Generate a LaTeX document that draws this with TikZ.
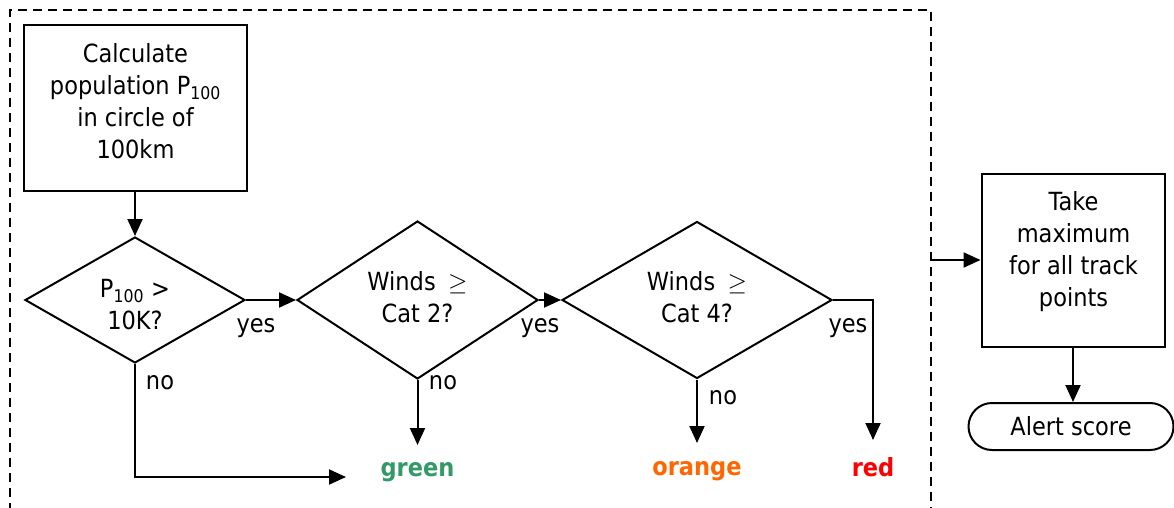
\documentclass[tikz,border=0pt]{standalone}
\usepackage{fontspec}
\setmainfont{DejaVu Sans}[FakeStretch=0.9]
\usetikzlibrary{shapes.geometric,shapes.misc,arrows.meta}
\definecolor{resgreen}{HTML}{339966}
\definecolor{resorange}{HTML}{FF6600}
\definecolor{resred}{HTML}{FF0000}
\begin{document}
\begin{tikzpicture}[x=1pt,y=-1pt,
  font=\fontsize{25}{32}\selectfont,
  line width=2pt,
  arr/.style={-{Triangle[length=17pt,width=15pt]}},
  procbox/.style={draw,rectangle,inner sep=0pt},
  decision/.style={draw,diamond,inner sep=0pt,align=center},
  txt/.style={inner sep=0pt,align=center},
  res/.style={inner sep=0pt,font=\fontsize{25}{30}\selectfont\bfseries},
  frame/.style={line width=1.6pt,dash pattern=on 9pt off 6pt},
]
\useasboundingbox (0,0) rectangle (1174,508);
% dashed frame
\draw[frame] (10,512) -- (10,10) -- (931,10) -- (931,512);

% boxes
\node[procbox,minimum width=223pt,minimum height=166pt] (box1) at (135,108) {};
\node[txt] (box1t) at (135.5,101.5) {Calculate\\population P\textsubscript{100}\\in circle of\\100km};

\node[decision,minimum width=220pt,minimum height=126pt] (d1) at (135,300) {};
\node[txt] (d1t) at (135,305) {P\textsubscript{100} >\\10K?};
\node[decision,minimum width=241pt,minimum height=158pt] (d2) at (417.5,300) {};
\node[txt] (d2t) at (417.5,297) {Winds\enspace$\geq$\\Cat 2?};
\node[decision,minimum width=270pt,minimum height=157pt] (d3) at (697,300) {};
\node[txt] (d3t) at (697,297) {Winds\enspace$\geq$\\Cat 4?};

\node[procbox,minimum width=183pt,minimum height=173pt] (box2) at (1073,260) {};
\node[txt] (box2t) at (1073.5,252) {Take\\maximum\\for all track\\points};
\node[draw,rounded rectangle,minimum width=205pt,minimum height=47pt,inner sep=0pt] (term) at (1071,426.5) {Alert score};

% results
\node[res,text=resgreen] (green) at (417.5,472) {green};
\node[res,text=resorange] (orange) at (697,471) {orange};
\node[res,text=resred] (red) at (873,467) {red};

% labels
\node[txt] (y1) at (256,328) {yes};
\node[txt] (y2) at (540,328) {yes};
\node[txt] (y3) at (848,328) {yes};
\node[txt] (n1) at (160,383) {no};
\node[txt] (n2) at (443,383) {no};
\node[txt] (n3) at (723,398) {no};

% connector ends
\coordinate (gtip) at (346,477);
\coordinate (greentip) at (417.5,445);
\coordinate (orangetip) at (697,443);
\coordinate (redtip) at (873,440);
\coordinate (frameout) at (931,260);

% connectors
\draw[arr] (box1.south) -- (d1.north);
\draw[arr] (d1.east) -- (d2.west);
\draw[arr] (d2.east) -- (d3.west);
\draw[arr] (d3.east) -| (redtip);
\draw[arr] (d3.south) -- (orangetip);
\draw[arr] (d2.south) -- (greentip);
\draw[arr] (d1.south) |- (gtip);
\draw[arr] (frameout) -- (box2.west);
\draw[arr] (box2.south) -- (box2.south |- term.north);
\end{tikzpicture}
\end{document}
